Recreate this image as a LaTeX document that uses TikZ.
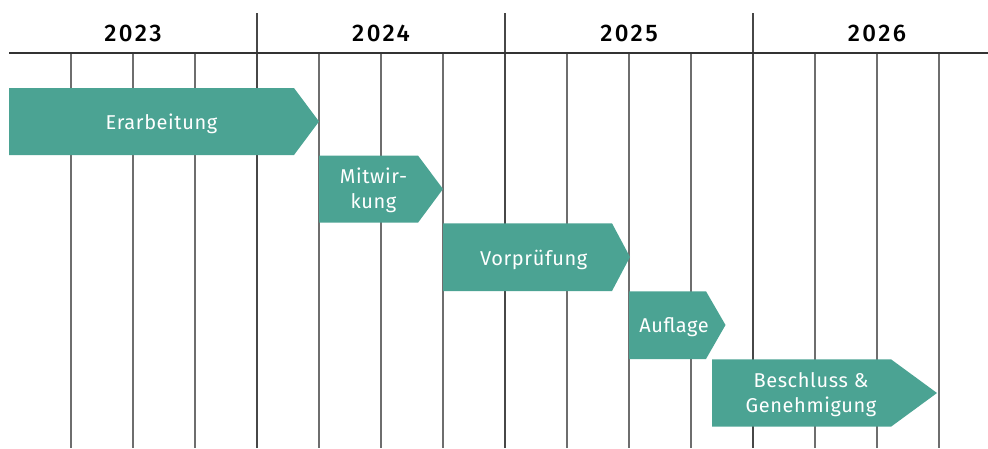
\documentclass[tikz,border=0pt]{standalone}
\usepackage{fontspec}
\setmainfont{Fira Sans}
\newfontfamily\yearfont{Fira Sans Medium}[LetterSpace=10]
\newfontfamily\barfont{Fira Sans}[LetterSpace=3]
\definecolor{teal}{HTML}{4BA393}
\definecolor{gridgrey}{HTML}{6E6E6E}
\definecolor{axisdark}{HTML}{333333}
\tikzset{
  qline/.style={draw=gridgrey, line width=1.3pt},
  yline/.style={draw=axisdark!90, line width=1.5pt},
  hline/.style={draw=axisdark, line width=1.4pt},
  bar/.style={fill=teal, draw=none},
  yearlbl/.style={anchor=base, inner sep=0pt, font=\yearfont\fontsize{24}{24}\selectfont, text=black},
  barlbl/.style={anchor=base, inner sep=0pt, align=center, text=white, font=\barfont\fontsize{20}{25}\selectfont},
}
\begin{document}
\begin{tikzpicture}[x=1pt,y=-1pt]
\useasboundingbox (0,0) rectangle (988,448);
% quarter lines
\foreach \x in {71,133,195,319,381,443,567,629,691,815,877,939}
  \draw[qline] (\x,53) -- (\x,448);
% year separators
\foreach \x in {257,505,753}
  \draw[yline] (\x,13) -- (\x,448);
% axis
\coordinate (axL) at (9,53);
\coordinate (axR) at (988,53);
\draw[hline] (axL) -- (axR);
% years
\node[yearlbl] (y2023) at (133,41.5) {2023};
\node[yearlbl] (y2024) at (381,41.5) {2024};
\node[yearlbl] (y2025) at (629,41.5) {2025};
\node[yearlbl] (y2026) at (877,41.5) {2026};
% bars
\fill[bar] (9,88) -- (294,88) -- (319,121.5) -- (294,155) -- (9,155) -- cycle;
\node[barlbl] (erarb) at (161.5,129) {Erarbeitung};
\fill[bar] (319,155.5) -- (418,155.5) -- (443,189) -- (418,222.7) -- (319,222.7) -- cycle;
\node[barlbl] (mitw) at (373.5,208) {Mitwir-\\kung};
\fill[bar] (443,223.3) -- (612,223.3) -- (630,257) -- (612,291) -- (443,291) -- cycle;
\node[barlbl] (vorpr) at (533.7,265) {Vorprüfung};
\fill[bar] (629,291.3) -- (706,291.3) -- (725.5,325) -- (706,359) -- (629,359) -- cycle;
\node[barlbl] (aufl) at (674,332.7) {Auflage};
\fill[bar] (712,359.3) -- (891,359.3) -- (937,393) -- (891,426.7) -- (712,426.7) -- cycle;
\node[barlbl] (beschl) at (811,412) {Beschluss \&\\Genehmigung};
\end{tikzpicture}
\end{document}
